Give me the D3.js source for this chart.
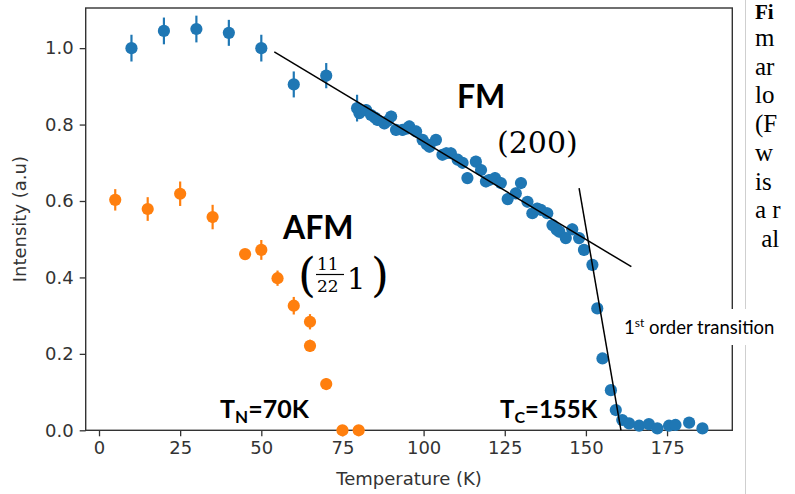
<!DOCTYPE html>
<html>
<head>
<meta charset="utf-8">
<script src="https://cdn.jsdelivr.net/npm/d3@7"></script>
<style>
  body { margin: 0; background: #fff; }
  svg { display: block; }
</style>
</head>
<body>
<div class="chart"></div>
<script>
// FM (200) peak, blue
const fmTemp = [10, 20, 30, 40, 50, 60, 70,
  79.5, 80.2, 81, 82.3, 83.8, 85, 85.8, 87.9, 89, 90, 91.5, 93.5, 95, 95.6, 97.7, 99.7,
  101, 101.8, 103.8, 105.8, 107, 108.4, 110.5, 112, 113.5, 116.1, 117.7, 119.2, 120.2,
  122, 123.8, 125.9, 128.4, 130, 132, 133.5, 135, 136.1, 138.1, 139.7, 141, 141.8, 143.8,
  145.8, 147.9, 149.4, 152, 153.5, 155.1, 157.7, 159.2, 161.2, 163.3, 166.4, 169.4, 172,
  175.6, 177.6, 181.8, 185.9];
const fmInt = [1.00, 1.045, 1.05, 1.04, 1.00, 0.905, 0.928,
  0.843, 0.830, 0.836, 0.838, 0.825, 0.818, 0.812, 0.803, 0.81, 0.821, 0.786, 0.786, 0.79, 0.795, 0.782, 0.760,
  0.748, 0.742, 0.760, 0.721, 0.725, 0.725, 0.708, 0.70, 0.660, 0.703, 0.681, 0.651, 0.655,
  0.66, 0.647, 0.605, 0.620, 0.647, 0.598, 0.568, 0.58, 0.577, 0.568, 0.537, 0.525, 0.520, 0.503,
  0.526, 0.503, 0.472, 0.433, 0.319, 0.188, 0.105, 0.053, 0.027, 0.018, 0.012, 0.016, 0.005,
  0.012, 0.014, 0.020, 0.005];
const fmErr = [0.035, 0.035, 0.035, 0.034, 0.035, 0.034, 0.033,
  0.035, 0.015, 0.015, 0.015, 0.015, 0.015, 0.015, 0.015, 0.015, 0.015, 0.015, 0.015, 0.015, 0.015, 0.015, 0.015,
  0.015, 0.015, 0.015, 0.015, 0.015, 0.015, 0.015, 0.015, 0.015, 0.015, 0.015, 0.015, 0.015,
  0.015, 0.015, 0.015, 0.015, 0.015, 0.015, 0.015, 0.015, 0.015, 0.015, 0.015, 0.015, 0.015, 0.015,
  0.015, 0.015, 0.015, 0.015, 0.012, 0.012, 0.012, 0.01, 0.01, 0.01, 0.01, 0.01, 0.01,
  0.01, 0.01, 0.01, 0.01];

// AFM (1/2 1/2 1) peak, orange
const afmTemp = [5, 15, 25, 35, 45, 50, 55, 60, 65, 65, 70, 75, 80];
const afmInt = [0.603, 0.579, 0.619, 0.558, 0.461, 0.472, 0.398, 0.326, 0.284, 0.221, 0.121, 0.0, 0.0];
const afmErr = [0.028, 0.031, 0.032, 0.032, 0.012, 0.026, 0.02, 0.023, 0.02, 0.016, 0.015, 0.01, 0.01];

// hand drawn guide lines
const fitLowT = [54, 164];
const fitLowI = [0.99, 0.428];
const fitHighT = [147.9, 160.8];
const fitHighI = [0.634, 0.0];

const xTicks = [0, 25, 50, 75, 100, 125, 150, 175];
const yTicks = [0, 0.2, 0.4, 0.6, 0.8, 1.0];

const docLines = ["Fi", "m", "ar", "lo", "(F", "w", "is", "a r", " al"];

const WIDTH = 795, HEIGHT = 494;
const plot = { left: 85.7, right: 732.3, top: 8, bottom: 430.3 };

const svg = d3.select(".chart").append("svg")
  .attr("width", WIDTH)
  .attr("height", HEIGHT)
  .style("background", "#fff");

const x = d3.scaleLinear().domain([-4.1, 195.1]).range([plot.left, plot.right]);
const y = d3.scaleLinear().domain([0, 1.105]).range([plot.bottom, plot.top]);

// axes
const xAxis = svg.append("g")
  .attr("transform", `translate(0,${plot.bottom})`)
  .call(d3.axisBottom(x).tickValues(xTicks).tickSize(6).tickPadding(5));
const yAxis = svg.append("g")
  .attr("transform", `translate(${plot.left},0)`)
  .call(d3.axisLeft(y).tickValues(yTicks).tickFormat(d3.format(".1f")).tickSize(6).tickPadding(6));

[xAxis, yAxis].forEach(g => {
  g.select(".domain").remove();
  g.selectAll(".tick line").attr("stroke", "#333").attr("stroke-width", 1.3);
  g.selectAll(".tick text")
    .attr("fill", "#333")
    .style("font-family", "DejaVu Sans")
    .style("font-size", "18px");
});

// frame
svg.append("rect")
  .attr("x", plot.left).attr("y", plot.top)
  .attr("width", plot.right - plot.left)
  .attr("height", plot.bottom - plot.top)
  .attr("fill", "none")
  .attr("stroke", "#333")
  .attr("stroke-width", 1.4);

// axis titles
svg.append("text")
  .attr("x", 409)
  .attr("y", 485)
  .attr("text-anchor", "middle")
  .attr("fill", "#333")
  .style("font-family", "DejaVu Sans")
  .style("font-size", "18px")
  .text("Temperature (K)");

svg.append("text")
  .attr("transform", `translate(26,${(plot.top + plot.bottom) / 2}) rotate(-90)`)
  .attr("text-anchor", "middle")
  .attr("fill", "#333")
  .style("font-family", "DejaVu Sans")
  .style("font-size", "18px")
  .text("Intensity (a.u)");

// errorbar series
function drawSeries(temps, ints, errs, color) {
  const data = temps.map((t, i) => ({ t, v: ints[i], e: errs[i] }));
  const g = svg.append("g");
  g.selectAll("line")
    .data(data)
    .enter().append("line")
    .attr("x1", d => x(d.t)).attr("x2", d => x(d.t))
    .attr("y1", d => y(d.v - d.e)).attr("y2", d => y(d.v + d.e))
    .attr("stroke", color)
    .attr("stroke-width", 2.2);
  g.selectAll("circle")
    .data(data)
    .enter().append("circle")
    .attr("cx", d => x(d.t))
    .attr("cy", d => y(d.v))
    .attr("r", 6.1)
    .attr("fill", color);
}

drawSeries(fmTemp, fmInt, fmErr, "#1f77b4");
drawSeries(afmTemp, afmInt, afmErr, "#ff7f0e");

// guide lines
function guide(ts, vs) {
  svg.append("line")
    .attr("x1", x(ts[0])).attr("y1", y(vs[0]))
    .attr("x2", x(ts[1])).attr("y2", y(vs[1]))
    .attr("stroke", "#000")
    .attr("stroke-width", 1.5);
}
guide(fitLowT, fitLowI);
guide(fitHighT, fitHighI);

// annotations
const bold = { family: "Lato", weight: "bold" };
function label(txt, px, py, size, opts = {}) {
  return svg.append("text")
    .attr("x", px).attr("y", py)
    .attr("fill", "#000")
    .style("font-family", opts.family || "Lato")
    .style("font-weight", opts.weight || "normal")
    .style("font-size", size + "px")
    .text(txt);
}

label("FM", 457, 108, 32, bold);
label("(200)", 497, 153, 30, { family: "DejaVu Serif" });
label("AFM", 283, 239, 32, bold);

// (1/2 1/2 1) as a stacked fraction
label("(", 298, 291, 46, { family: "DejaVu Serif" });
label("11", 317, 270, 17, { family: "DejaVu Serif" });
svg.append("line")
  .attr("x1", 316).attr("x2", 344).attr("y1", 274.5).attr("y2", 274.5)
  .attr("stroke", "#000").attr("stroke-width", 1.2);
label("22", 317, 292, 17, { family: "DejaVu Serif" });
label("1", 347, 289, 29, { family: "DejaVu Serif" });
label(")", 371, 291, 46, { family: "DejaVu Serif" });

// T_N and T_C
const tn = label("T", 220, 418, 25, bold);
tn.append("tspan").attr("dy", 5).style("font-size", "17px").text("N");
tn.append("tspan").attr("dy", -5).text("=70K");

const tc = label("T", 500, 418, 24, bold);
tc.append("tspan").attr("dy", 5).style("font-size", "16px").text("C");
tc.append("tspan").attr("dy", -5).text("=155K");

// neighbouring document column
svg.append("line")
  .attr("x1", 745.5).attr("x2", 745.5).attr("y1", 0).attr("y2", HEIGHT)
  .attr("stroke", "#cfcfcf").attr("stroke-width", 1);

docLines.forEach((s, i) => {
  svg.append("text")
    .attr("x", 755)
    .attr("y", i === 0 ? 19.2 : 17.3 + i * 28.7)
    .attr("fill", "#000")
    .style("font-family", "Liberation Serif")
    .style("font-weight", i === 0 ? "bold" : "normal")
    .style("font-size", i === 0 ? "21px" : "25px")
    .style("white-space", "pre")
    .text(s);
});

// boxed callout on top of the frame
svg.append("rect")
  .attr("x", 617).attr("y", 309)
  .attr("width", 168).attr("height", 36)
  .attr("fill", "#fff");
const tr = label("1", 624, 334, 18.5);
tr.append("tspan").attr("dy", -7).style("font-size", "12px").text("st");
tr.append("tspan").attr("dy", 7).text(" order transition");
</script>
</body>
</html>
